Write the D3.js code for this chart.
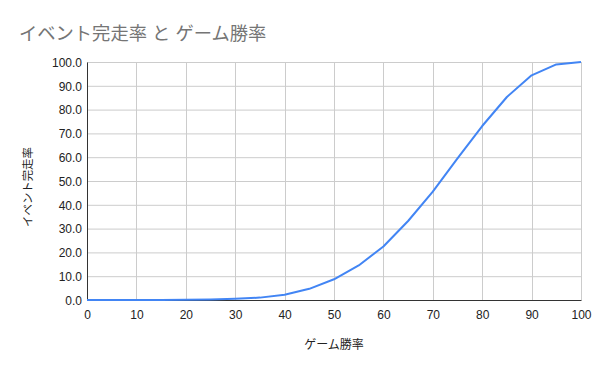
<!DOCTYPE html>
<html lang="ja">
  <head>
    <meta charset="UTF-8" />
    <title>イベント完走率 と ゲーム勝率</title>
    <style>
      body {
        margin: 0;
        background: #fff;
      }
      svg text {
        font-family: "Liberation Sans", Arial, "Noto Sans CJK JP", sans-serif;
      }
    </style>
  </head>
  <body>
    <svg id="svg" width="600" height="371"></svg>
    <script src="https://cdn.jsdelivr.net/npm/d3@7"></script>
    <script>
      // CONSTANTS
      const WIDTH = 600;
      const HEIGHT = 371;
      const LEFT = 87;
      const RIGHT = 581;
      const TOP = 62;
      const BOTTOM = 300;

      // data
      const winRate = [0, 5, 10, 15, 20, 25, 30, 35, 40, 45, 50, 55, 60, 65, 70, 75, 80, 85, 90, 95, 100];
      const finishRate = [0, 0, 0, 0, 0.1, 0.2, 0.5, 1.0, 2.2, 4.7, 8.7, 14.5, 22.5, 33.2, 45.5, 59.5, 73.1, 85.3, 94.4, 99.0, 100.0];
      const xTicks = [0, 10, 20, 30, 40, 50, 60, 70, 80, 90, 100];
      const yTicks = [0, 10, 20, 30, 40, 50, 60, 70, 80, 90, 100];

      const svg = d3.select("#svg");

      const x = d3.scaleLinear().domain([0, 100]).range([LEFT, RIGHT]);
      const y = d3.scaleLinear().domain([0, 100]).range([BOTTOM, TOP]);

      // title
      svg
        .append("text")
        .attr("x", 19)
        .attr("y", 40)
        .attr("fill", "#757575")
        .style("font-size", "18.3px")
        .text("イベント完走率 と ゲーム勝率");

      // gridlines
      const grid = svg.append("g");
      grid
        .selectAll("line.h")
        .data(yTicks.slice(1))
        .enter()
        .append("line")
        .attr("x1", LEFT)
        .attr("x2", RIGHT)
        .attr("y1", (d) => y(d) + 0.5)
        .attr("y2", (d) => y(d) + 0.5)
        .attr("stroke", "#cccccc");
      grid
        .selectAll("line.v")
        .data(xTicks.slice(1))
        .enter()
        .append("line")
        .attr("x1", (d) => Math.round(x(d)) + 0.5)
        .attr("x2", (d) => Math.round(x(d)) + 0.5)
        .attr("y1", TOP)
        .attr("y2", BOTTOM)
        .attr("stroke", "#cccccc");

      // axes
      const xAxis = svg
        .append("g")
        .attr("transform", `translate(0, ${BOTTOM})`)
        .call(d3.axisBottom(x).tickValues(xTicks).tickSize(0).tickPadding(10));
      const yAxis = svg
        .append("g")
        .attr("transform", `translate(${LEFT}, 0)`)
        .call(
          d3.axisLeft(y).tickValues(yTicks).tickSize(0).tickPadding(5).tickFormat(d3.format(".1f"))
        );
      [xAxis, yAxis].forEach((a) => {
        a.select(".domain").attr("stroke", "#333333");
        a.selectAll("text")
          .attr("fill", "#222222")
          .style("font-size", "12px")
          .style("font-family", '"Liberation Sans", Arial, sans-serif');
      });
      xAxis.selectAll("text").attr("dy", "0.71em");
      yAxis.selectAll("text").attr("dy", "0.35em");

      // line
      const lineGen = d3
        .line()
        .x((d, i) => x(winRate[i]))
        .y((d) => y(d));
      svg
        .append("path")
        .datum(finishRate)
        .attr("d", lineGen)
        .attr("fill", "none")
        .attr("stroke", "#4285f4")
        .attr("stroke-width", 2)
        .attr("stroke-linejoin", "round");

      // axis titles
      svg
        .append("text")
        .attr("x", (LEFT + RIGHT) / 2)
        .attr("y", 349)
        .attr("text-anchor", "middle")
        .attr("fill", "#222222")
        .style("font-size", "12px")
        .text("ゲーム勝率");
      svg
        .append("text")
        .attr("transform", "translate(32, 187) rotate(-90)")
        .attr("text-anchor", "middle")
        .attr("fill", "#222222")
        .style("font-size", "11.4px")
        .text("イベント完走率");
    </script>
  </body>
</html>
